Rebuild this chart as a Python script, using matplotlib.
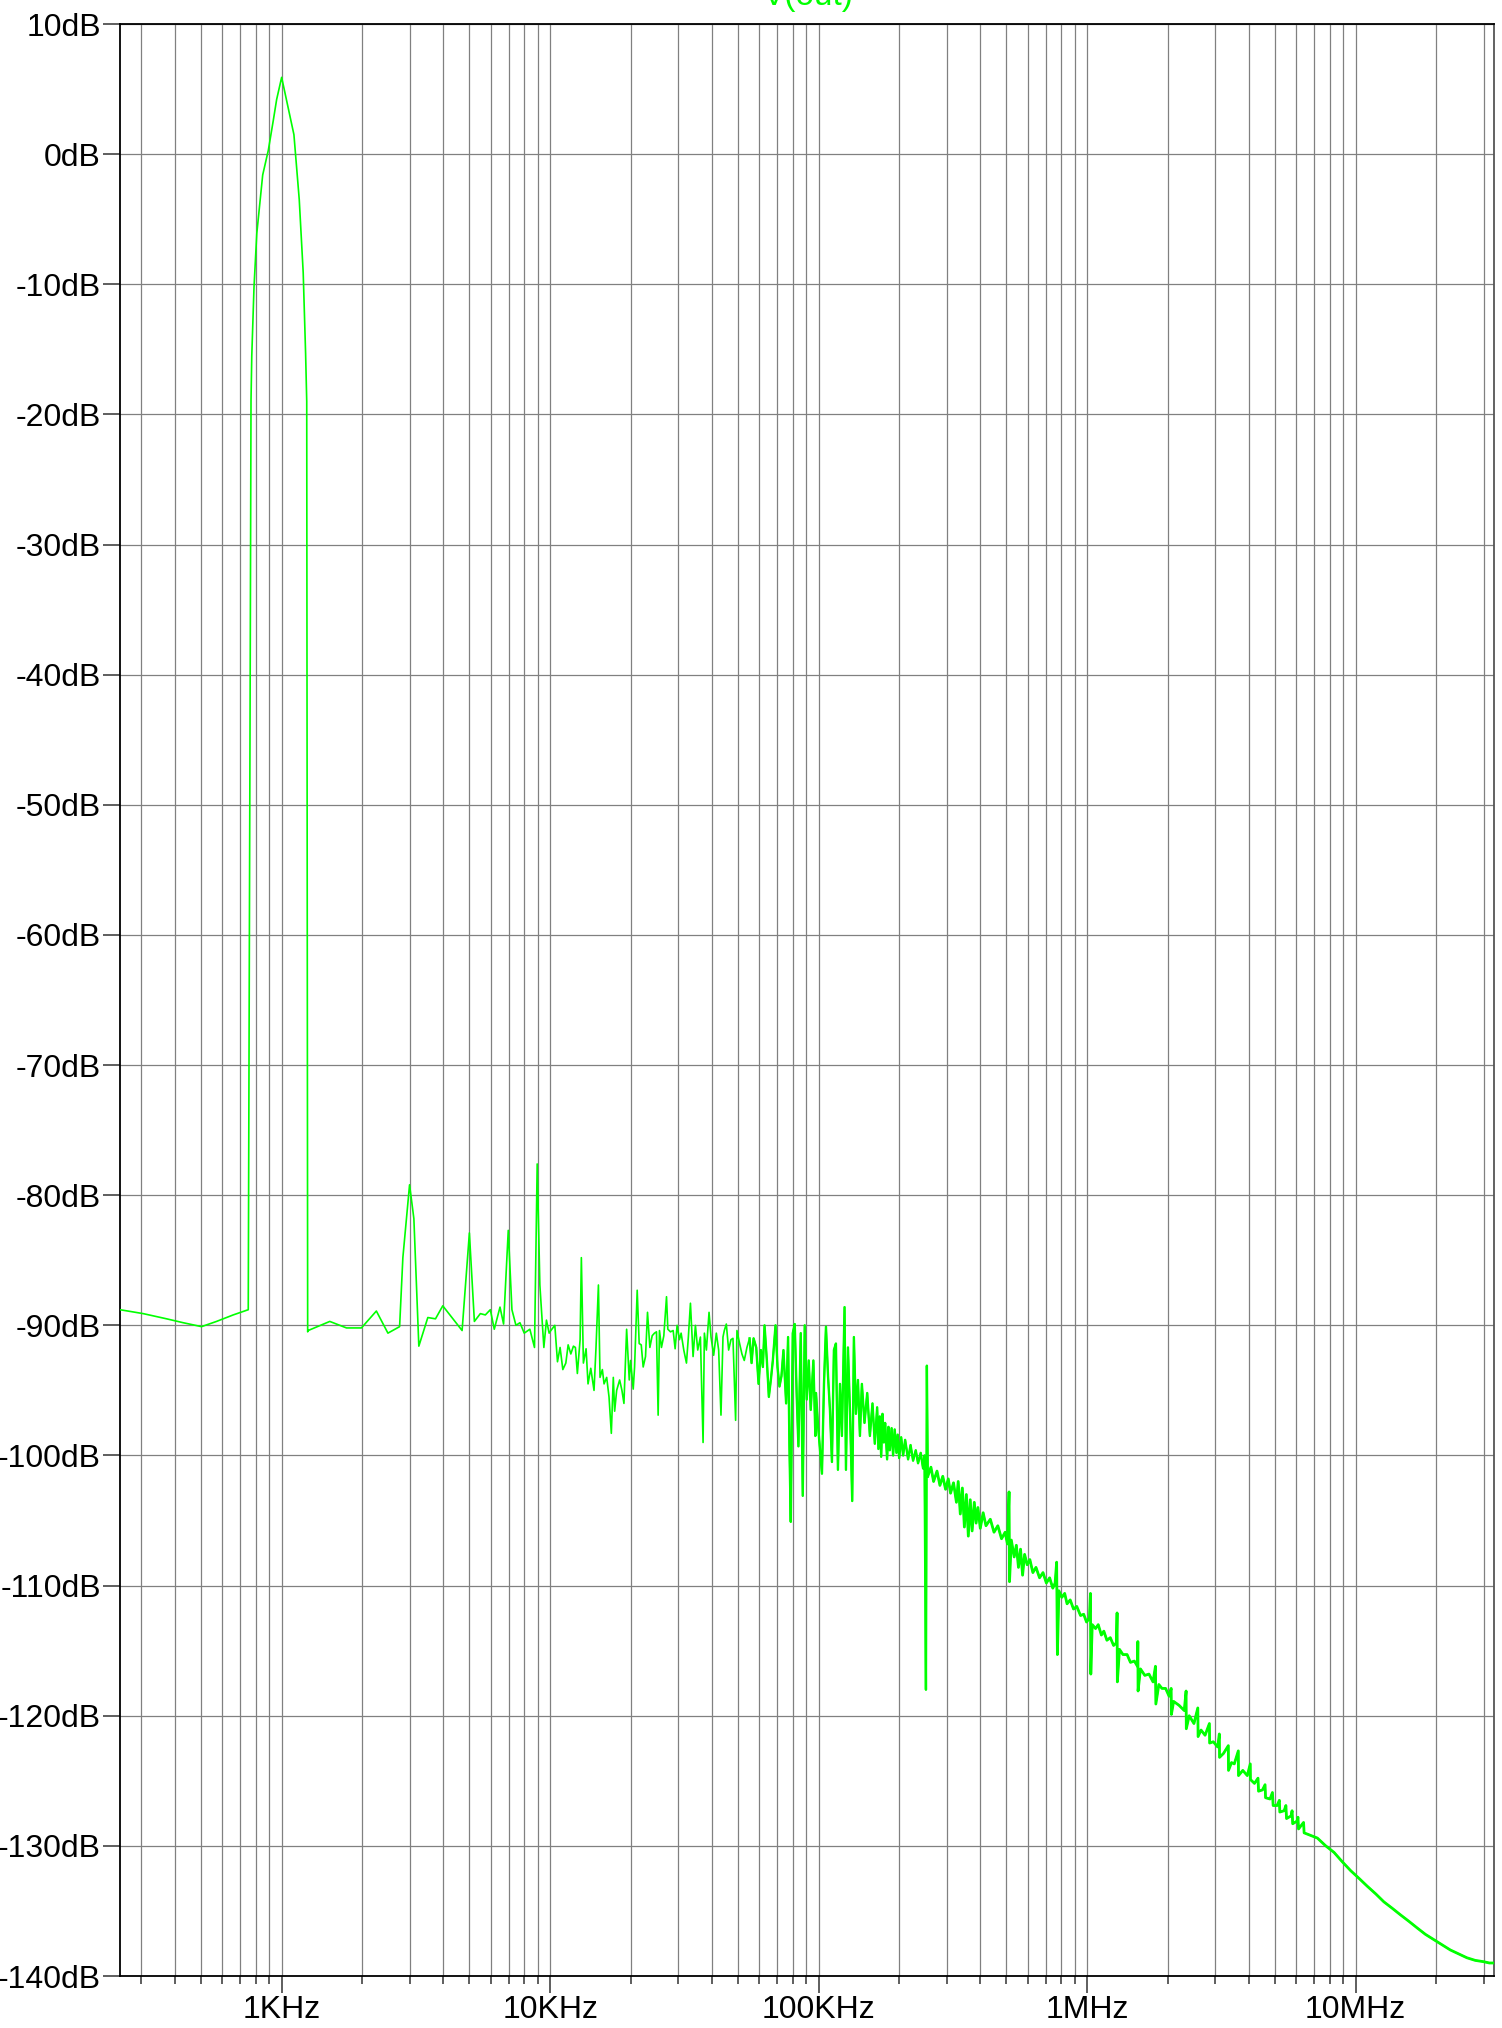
import numpy as np
import matplotlib
matplotlib.use('Agg')
import matplotlib.pyplot as plt
from matplotlib.ticker import FixedLocator, FixedFormatter, FuncFormatter, NullFormatter

plt.rcParams['font.family'] = ['Liberation Sans', 'DejaVu Sans']

# V(out) FFT, values
# fundamental region (Hz)
fund_freq_hz = [250, 305, 373, 430, 503, 572, 660, 751, 769, 774,
                789, 808, 850, 892, 931, 958, 1000, 1111, 1163, 1203,
                1228, 1240, 1250]
fund_db = [-88.8, -89.1, -89.5, -89.8, -90.1, -89.7, -89.2, -88.8, -18.9, -15.5,
           -10.2, -6.1, -1.6, 0.3, 2.6, 4.2, 5.9, 1.5, -3.5, -9.1,
           -15.3, -19.0, -90.5]

# harmonics and noise floor (kHz)
noise_freq_khz = [
    1.255, 1.511, 1.744, 1.982, 2.253, 2.488, 2.750, 2.828, 2.995, 3.108,
    3.243, 3.503, 3.741, 3.982, 4.700, 5.003, 5.222, 5.496, 5.736, 5.987,
    6.194, 6.505, 6.708, 6.983, 7.206, 7.458, 7.719, 8.008, 8.404, 8.745,
    8.949, 9.157, 9.476, 9.688, 9.915, 10.06, 10.41, 10.65, 10.89, 11.15,
    11.44, 11.67, 11.94, 12.21, 12.42, 12.63, 12.93, 13.07, 13.30, 13.61,
    13.84, 14.17, 14.57, 14.82, 15.13, 15.34, 15.65, 15.88, 16.24, 16.57,
    16.90, 17.19, 17.39, 17.69, 18.15, 18.51, 18.83, 19.27, 19.71, 19.93,
    20.39, 20.63, 21.10, 21.46, 21.84, 22.21, 22.66, 23.05, 23.52, 23.99,
    24.47, 24.89, 25.25, 25.54, 25.98, 26.51, 27.13, 27.44, 28.07, 28.72,
    29.21, 29.71, 30.32, 30.75, 31.46, 32.19, 32.72, 33.31, 34.07, 34.76,
    35.46, 36.28, 37.12, 37.54, 38.19, 39.07, 39.74, 40.65, 41.59, 42.43,
    43.28, 44.03, 44.54, 45.31, 46.22, 47.15, 47.97, 49.07, 49.63, 50.78,
    51.80, 52.85, 54.07, 55.31, 56.27, 57.24, 58.56, 59.74, 60.94, 61.99,
    62.89, 64.15, 65.25, 66.38, 67.52, 69.09, 70.28, 71.48, 72.71, 73.96,
    75.67, 76.96, 77.85, 78.75, 80.11, 81.48, 82.89, 84.09, 85.79, 87.27,
    88.76, 90.31, 91.87, 93.45, 95.60, 97.24, 97.80, 99.49, 102.9, 104.7,
    106.5, 108.4, 110.2, 112.1, 114.0, 116.0, 118.0, 120.1, 122.1, 124.9,
    126.4, 128.6, 130.8, 133.4, 135.3, 137.7, 140.1, 142.5, 144.9, 148.2,
    151.7, 155.2, 158.7, 161.9, 165.2, 167.0, 169.0, 171.0, 172.9, 175.0,
    176.9, 179.9, 182.0, 184.1, 187.0, 189.4, 192.0, 194.9, 197.0, 199.5,
    203.0, 206.4, 210.0, 215.4, 220.0, 224.8, 230.0, 234.6, 240.0, 244.9,
    248.0]
noise_db = [
    -90.4, -89.7, -90.2, -90.2, -88.9, -90.6, -90.1, -84.8, -79.2, -81.8,
    -91.6, -89.4, -89.5, -88.5, -90.4, -82.9, -89.7, -89.1, -89.2, -88.8,
    -90.3, -88.6, -89.9, -82.7, -88.8, -90.0, -89.8, -90.6, -90.3, -91.7,
    -77.6, -86.9, -91.7, -89.6, -90.6, -90.4, -90.0, -92.8, -91.7, -93.4,
    -92.9, -91.5, -92.2, -91.6, -91.7, -93.7, -91.1, -84.8, -92.9, -91.8,
    -94.5, -93.3, -95.0, -91.7, -86.9, -94.0, -93.4, -94.5, -94.0, -95.5,
    -98.3, -94.0, -96.6, -95.0, -94.2, -95.0, -96.0, -90.3, -94.2, -92.7,
    -94.9, -93.2, -87.3, -91.4, -91.5, -93.2, -92.4, -89.0, -91.7, -90.8,
    -90.6, -90.5, -96.9, -90.4, -91.7, -90.8, -87.8, -90.3, -90.5, -90.4,
    -91.8, -90.0, -91.1, -90.6, -91.9, -92.9, -90.9, -88.3, -92.4, -90.0,
    -91.9, -90.9, -99.0, -90.6, -91.9, -89.0, -90.9, -92.3, -90.6, -91.9,
    -96.9, -90.9, -90.4, -89.9, -91.9, -91.1, -91.0, -97.3, -90.4, -91.4,
    -92.2, -92.7, -91.7, -91.0, -92.9, -91.0, -91.7, -94.5, -91.9, -93.2,
    -90.0, -92.7, -95.5, -94.2, -92.7, -90.0, -93.2, -94.7, -93.9, -91.9,
    -96.0, -90.9, -99.3, -105.1, -90.6, -89.9, -95.5, -99.3, -90.6, -103.1,
    -90.0, -95.7, -92.7, -96.5, -92.7, -98.5, -95.2, -97.7, -101.4, -94.5,
    -90.1, -93.9, -96.5, -100.5, -91.9, -91.4, -101.1, -94.5, -98.5, -88.6,
    -101.1, -91.7, -96.5, -103.5, -90.9, -96.8, -94.2, -98.5, -94.5, -97.5,
    -95.2, -98.5, -96.0, -99.1, -96.3, -99.5, -97.0, -100.1, -96.8, -99.0,
    -97.5, -100.3, -97.8, -99.6, -97.9, -100.0, -98.0, -99.8, -98.4, -100.2,
    -98.6, -100.0, -98.8, -100.3, -99.2, -100.4, -99.6, -100.6, -99.8, -101.0,
    -100.0]

# roll-off with clock spurs (MHz)
rolloff_freq_mhz = [
    0.251, 0.253, 0.255, 0.262, 0.268, 0.276, 0.283, 0.290, 0.297, 0.304,
    0.310, 0.318, 0.326, 0.331, 0.337, 0.343, 0.349, 0.355, 0.361, 0.367,
    0.373, 0.380, 0.386, 0.392, 0.400, 0.410, 0.420, 0.436, 0.450, 0.465,
    0.480, 0.495, 0.505, 0.512, 0.514, 0.522, 0.535, 0.545, 0.555, 0.565,
    0.575, 0.585, 0.598, 0.612, 0.628, 0.645, 0.665, 0.685, 0.705, 0.725,
    0.745, 0.760, 0.770, 0.775, 0.785, 0.805, 0.825, 0.842, 0.865, 0.890,
    0.915, 0.945, 0.971, 0.995, 1.020, 1.029, 1.032, 1.045, 1.075, 1.100,
    1.130, 1.154, 1.185, 1.220, 1.255, 1.285, 1.293, 1.296, 1.320, 1.360,
    1.409, 1.450, 1.500, 1.540, 1.545, 1.548, 1.580, 1.640, 1.700, 1.760,
    1.797, 1.803, 1.850, 1.900, 1.960, 2.020, 2.056, 2.060, 2.100, 2.200,
    2.300, 2.337, 2.341, 2.400, 2.500, 2.584, 2.590, 2.657, 2.750, 2.854,
    2.860, 2.950, 3.064, 3.108, 3.113, 3.220, 3.357, 3.362, 3.450, 3.533,
    3.657, 3.663, 3.800, 3.950, 4.052, 4.058, 4.200, 4.330, 4.350, 4.500,
    4.600, 4.620, 4.800, 4.900, 4.930, 5.100, 5.200, 5.220, 5.418, 5.500,
    5.530, 5.750, 5.800, 5.830, 6.050, 6.100, 6.130, 6.400, 6.430, 7.205,
    7.740, 8.309, 8.900, 9.580, 10.30, 11.05, 11.90, 12.74, 13.70, 14.69,
    15.80, 16.94, 18.20, 19.54, 21.00, 22.53, 24.20, 25.98, 27.90, 29.96,
    31.50, 32.768]
rolloff_db = [
    -118.0, -93.1, -101.6, -100.9, -102.0, -101.2, -102.3, -101.6, -102.6, -101.8,
    -102.9, -102.1, -103.6, -102.0, -104.5, -102.5, -105.5, -103.0, -106.2, -103.4,
    -105.8, -103.6, -105.2, -104.0, -105.6, -104.4, -105.4, -104.9, -105.9, -105.4,
    -106.4, -105.9, -106.8, -102.8, -109.7, -106.5, -107.8, -106.9, -108.6, -107.2,
    -109.2, -107.6, -108.4, -108.0, -109.0, -108.6, -109.4, -109.0, -109.8, -109.4,
    -110.2, -109.8, -108.2, -115.3, -110.4, -110.9, -110.6, -111.4, -111.1, -111.8,
    -111.6, -112.3, -112.2, -112.8, -112.5, -110.6, -116.8, -113.0, -113.3, -113.0,
    -113.8, -113.5, -114.2, -114.0, -114.6, -114.4, -112.1, -117.4, -114.9, -115.3,
    -115.3, -115.9, -115.8, -116.2, -114.3, -118.1, -116.4, -116.9, -116.8, -117.4,
    -116.2, -119.1, -117.6, -117.9, -117.9, -118.5, -117.9, -119.9, -118.9, -119.2,
    -119.6, -118.1, -121.0, -120.0, -120.6, -119.4, -121.6, -121.1, -121.5, -120.6,
    -122.1, -122.0, -122.4, -121.4, -123.2, -122.9, -122.3, -124.2, -123.6, -123.7,
    -122.7, -124.6, -124.2, -124.6, -123.7, -124.9, -125.2, -124.8, -125.8, -125.7,
    -125.3, -126.3, -126.4, -125.9, -126.9, -126.9, -126.5, -127.4, -127.3, -126.9,
    -127.9, -127.7, -127.3, -128.3, -128.1, -127.8, -128.7, -128.2, -129.0, -129.4,
    -130.0, -130.5, -131.2, -131.9, -132.5, -133.1, -133.7, -134.3, -134.8, -135.3,
    -135.8, -136.3, -136.8, -137.2, -137.6, -138.0, -138.3, -138.6, -138.8, -138.9,
    -139.0, -139.0]

x_major = [1e3, 1e4, 1e5, 1e6, 1e7]
x_labels = ['1KHz', '10KHz', '100KHz', '1MHz', '10MHz']
y_ticks = list(range(-140, 11, 10))
f_min, f_max = 250, 32.768e6

TRACE = '#00ff00'
GRID = '#808080'


def main():
    freq = np.concatenate([np.array(fund_freq_hz, float),
                           np.array(noise_freq_khz) * 1e3,
                           np.array(rolloff_freq_mhz) * 1e6])
    mag = np.concatenate([fund_db, noise_db, rolloff_db])

    fig = plt.figure(figsize=(15.02, 20.28), dpi=100)
    ax = fig.add_axes([120 / 1502, 1 - 1976 / 2028, 1374 / 1502, 1952 / 2028])

    # thin trace everywhere, heavier where the spectrum is dense
    ax.plot(freq, mag, color=TRACE, lw=1.2, zorder=3)
    dense = (freq >= 55e3) & (freq <= 260e3)
    ax.plot(freq[dense], mag[dense], color=TRACE, lw=1.7, zorder=3)
    hf = freq >= 0.255e6
    ax.plot(freq[hf], mag[hf], color=TRACE, lw=2.0, zorder=3)

    ax.set_xscale('log')
    ax.set_xlim(f_min, f_max)
    ax.set_ylim(-140, 10)

    minors = [m * 10.0 ** d for d in range(2, 8) for m in range(2, 10)
              if f_min <= m * 10.0 ** d <= f_max]
    ax.xaxis.set_major_locator(FixedLocator(x_major))
    ax.xaxis.set_major_formatter(FixedFormatter(x_labels))
    ax.xaxis.set_minor_locator(FixedLocator(minors))
    ax.xaxis.set_minor_formatter(NullFormatter())
    ax.yaxis.set_major_locator(FixedLocator(y_ticks))
    ax.yaxis.set_major_formatter(FuncFormatter(lambda v, p: f'{int(round(v))}dB'))

    ax.grid(True, which='both', axis='x', color=GRID, lw=0.9, zorder=1)
    ax.grid(True, which='major', axis='y', color=GRID, lw=0.9, zorder=1)
    ax.set_axisbelow(True)

    ax.tick_params(axis='both', which='major', direction='out', length=12.2,
                   width=1.1, color='#333333', labelsize=23, labelcolor='black')
    ax.tick_params(axis='x', which='major', pad=1.5)
    ax.tick_params(axis='y', which='major', pad=1.5)
    ax.tick_params(axis='x', which='minor', direction='out', length=5.8,
                   width=1.1, color='#333333')

    for side in ['left', 'top', 'bottom']:
        ax.spines[side].set_color('black')
        ax.spines[side].set_linewidth(1.3)
    ax.spines['right'].set_color('#555555')
    ax.spines['right'].set_linewidth(1.3)

    fig.text(808 / 1502, 1 - 5 / 2028, 'V(out)', ha='center', va='baseline',
             color=TRACE, fontsize=24)

    fig.savefig('out.png', dpi=100)
    plt.close(fig)


if __name__ == '__main__':
    main()
